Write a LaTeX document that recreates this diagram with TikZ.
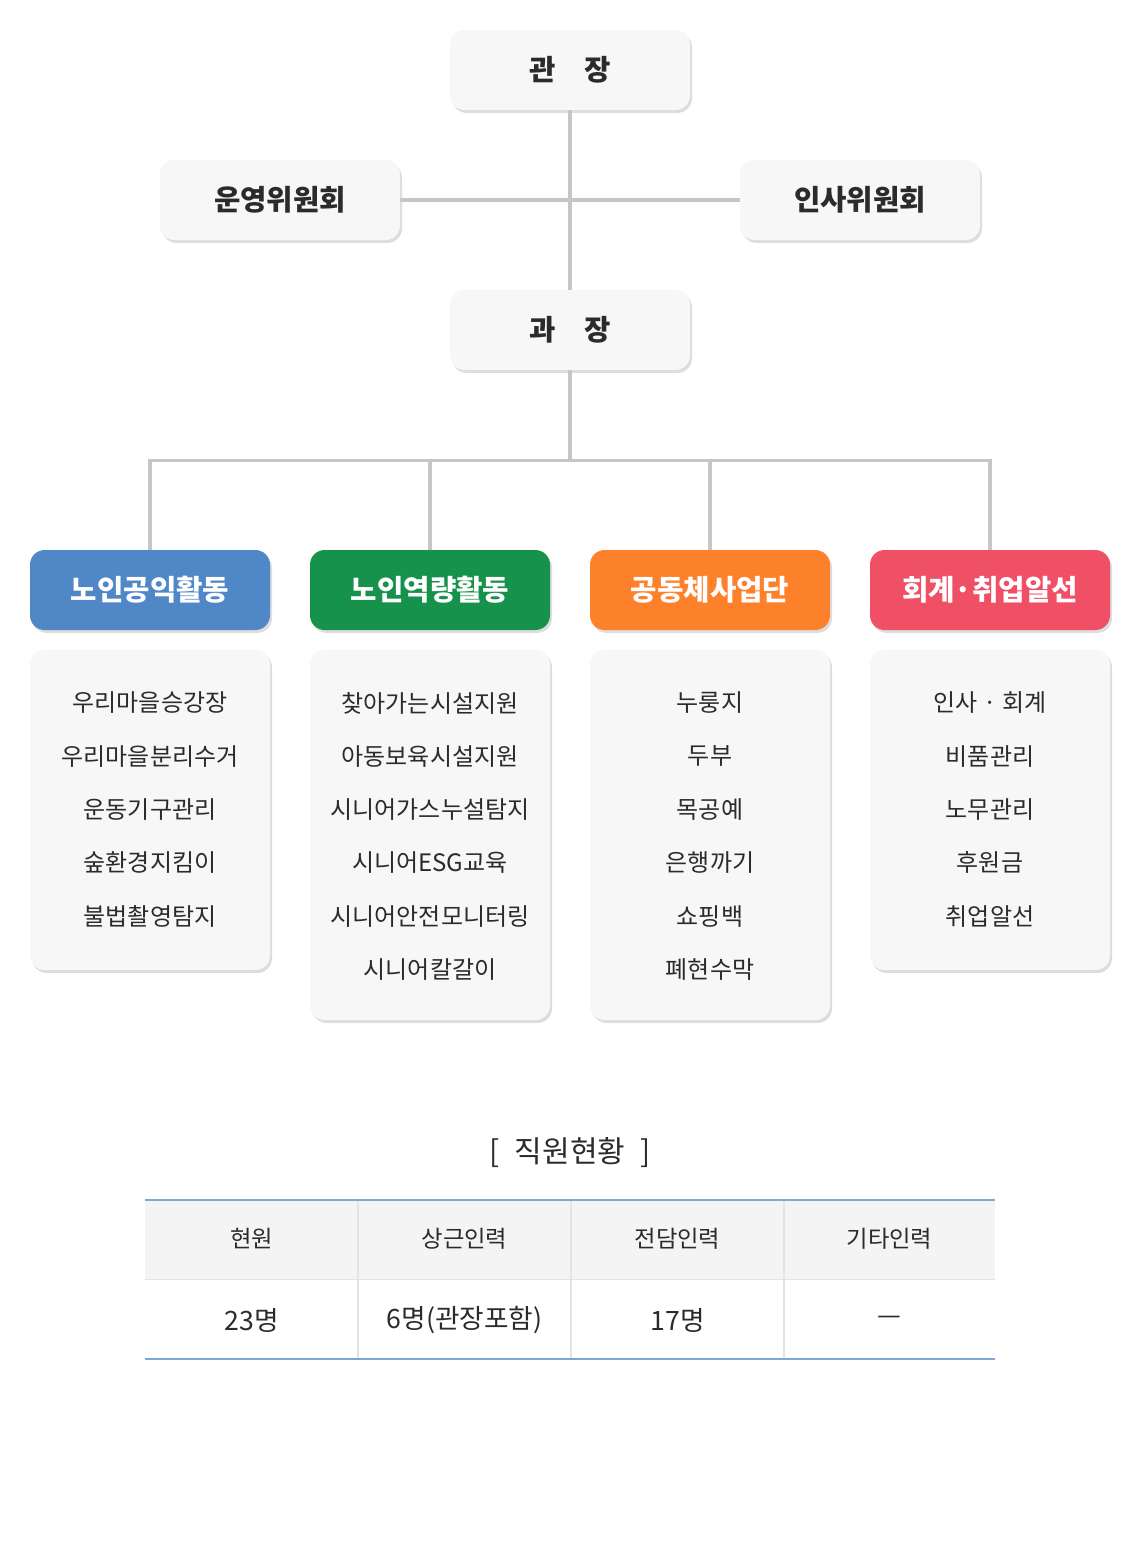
\documentclass[tikz,border=0pt]{standalone}
\usepackage{fontspec}
\setmainfont{Noto Sans CJK KR}
\usetikzlibrary{shadows}
\definecolor{linegray}{HTML}{C6C6C6}
\definecolor{boxgray}{HTML}{F7F7F7}
\definecolor{textdark}{HTML}{2B2B2B}
\definecolor{cblue}{HTML}{4F87C7}
\definecolor{cgreen}{HTML}{17924C}
\definecolor{corange}{HTML}{FD812B}
\definecolor{cred}{HTML}{F05066}
\definecolor{tblue}{HTML}{7BA7D9}
\definecolor{tgray}{HTML}{E3E3E3}
\definecolor{thead}{HTML}{F4F4F4}
\tikzset{
	boxshadow/.style={drop shadow={shadow xshift=1.5pt, shadow yshift=-2.2pt, opacity=.22, fill=black!60}},
	headbox/.style={rounded corners=11pt, fill=boxgray, boxshadow, minimum width=180pt, minimum height=60pt, text=textdark, font=\fontsize{21.5}{26}\selectfont\bfseries},
	teambox/.style={rounded corners=11pt, fill=#1, boxshadow, minimum width=180pt, minimum height=60pt, text=white, font=\fontsize{21.5}{26}\selectfont\bfseries},
	listbox/.style={rounded corners=11pt, fill=boxgray, boxshadow, minimum width=180pt, minimum height=#1},
	item/.style={text=textdark, font=\fontsize{18}{22}\selectfont},
	link/.style={draw=linegray, line width=2.3pt},
	cell/.style={text=textdark, font=\fontsize{#1}{22}\selectfont},
}

\begin{document}
\begin{tikzpicture}[x=0.75pt,y=-0.75pt]
	\useasboundingbox[fill=white] (0,0) rectangle (1140,1560);
	% top of the chart
	\node[headbox] (chief) at (570,70) {관\hspace{1em}장};
	\node[headbox] (opcom) at (280,200) {운영위원회};
	\node[headbox] (hrcom) at (860,200) {인사위원회};
	\node[headbox] (head) at (570,330) {과\hspace{1em}장};
	% four teams
	\node[teambox=cblue] (teamA) at (150,590) {노인공익활동};
	\node[teambox=cgreen] (teamB) at (430,590) {노인역량활동};
	\node[teambox=corange] (teamC) at (710,590) {공동체사업단};
	\node[teambox=cred] (teamD) at (990,590) {회계·취업알선};
	\draw[link] (chief.south) -- (head.north);
	\draw[link] (opcom.east) -- (hrcom.west);
	\draw[link] (head.south) -- ++(0,90) coordinate (bus);
	\foreach \t in {teamA,teamB,teamC,teamD}
		\draw[link] (bus) -| (\t.north);
	% lists under the teams
	\node[listbox=240pt] (listA) at (150,810) {};
	\node[listbox=277.5pt] (listB) at (430,835) {};
	\node[listbox=277.5pt] (listC) at (710,835) {};
	\node[listbox=240pt] (listD) at (990,810) {};
	\foreach \t [count=\i] in {우리마을승강장,우리마을분리수거,운동기구관리,숲환경지킴이,불법촬영탐지}
		\node[item] (itemA\i) at (150,{703+53.3*(\i-1)}) {\t};
	\foreach \t [count=\i] in {찾아가는시설지원,아동보육시설지원,시니어가스누설탐지,시니어ESG교육,시니어안전모니터링,시니어칼갈이}
		\node[item] (itemB\i) at (430,{703+53.3*(\i-1)}) {\t};
	\foreach \t [count=\i] in {누룽지,두부,목공예,은행까기,쇼핑백,폐현수막}
		\node[item] (itemC\i) at (710,{703+53.3*(\i-1)}) {\t};
	\foreach \t [count=\i] in {인사 · 회계,비품관리,노무관리,후원금,취업알선}
		\node[item] (itemD\i) at (990,{703+53.3*(\i-1)}) {\t};
	% staff table
	\node[cell=22.5] (title) at (570,1153) {[\hspace{0.5em}직원현황\hspace{0.5em}]};
	\fill[thead] (145,1200) rectangle (995,1279);
	\draw[tgray, line width=1pt] (145,1279.5) -- (995,1279.5);
	\foreach \x in {358,571,784}
		\draw[tgray, line width=1pt] (\x,1200) -- (\x,1359);
	\draw[tblue, line width=1pt] (145,1200) -- (995,1200);
	\draw[tblue, line width=1pt] (145,1359) -- (995,1359);
	\node[cell=17.5] (h1) at (251.5,1239) {현원};
	\node[cell=17.5] (h2) at (464.5,1239) {상근인력};
	\node[cell=17.5] (h3) at (677.5,1239) {전담인력};
	\node[cell=17.5] (h4) at (889.5,1239) {기타인력};
	\node[cell=20] (d1) at (251.5,1320) {23명};
	\node[cell=20] (d2) at (464.5,1320) {6명(관장포함)};
	\node[cell=20] (d3) at (677.5,1320) {17명};
	\node[cell=20] (d4) at (889.5,1320) {—};
\end{tikzpicture}
\end{document}
